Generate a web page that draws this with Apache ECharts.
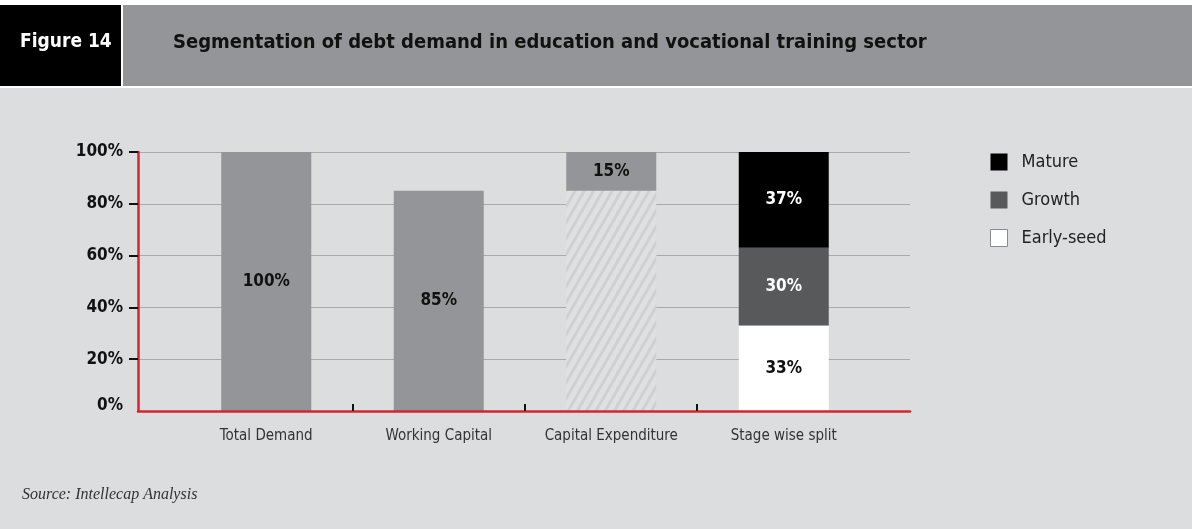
<!DOCTYPE html>
<html>
<head>
<meta charset="utf-8">
<script src="https://cdn.jsdelivr.net/npm/echarts@6/dist/echarts.min.js"></script>
<style>
html,body{margin:0;padding:0;background:#dcdddf;}
#c{width:1192px;height:529px;}
</style>
</head>
<body>
<div id="c"></div>
<script>
const categories = ['Total Demand', 'Working Capital', 'Capital Expenditure', 'Stage wise split'];
const demandValues = [100, 85, '-', '-'];
const capexHatchedValues = ['-', '-', 85, '-'];
const capexValues = ['-', '-', 15, '-'];
const earlySeedValues = ['-', '-', '-', 33];
const growthValues = ['-', '-', '-', 30];
const matureValues = ['-', '-', '-', 37];

const FONT = "'DejaVu Sans Condensed', 'Liberation Sans Narrow', sans-serif";
const RED = '#d8242f';

const chart = echarts.init(document.getElementById('c'), null, {renderer: 'canvas'});

const labelStyle = (color) => ({
  show: true, position: 'inside', formatter: '{c}%',
  fontFamily: FONT, fontWeight: 'bold', fontSize: 17, color: color
});

const baseBar = {
  type: 'bar', stack: 'all', xAxisIndex: 1, yAxisIndex: 1,
  barWidth: 90, z: 2, emphasis: {disabled: true}
};

chart.setOption({
  animation: false,
  backgroundColor: '#dcdddf',
  graphic: [
    {type: 'rect', shape: {x: 0, y: 0, width: 1192, height: 5}, style: {fill: '#ffffff'}, silent: true},
    {type: 'rect', shape: {x: 0, y: 5, width: 121, height: 81}, style: {fill: '#000000'}, silent: true},
    {type: 'rect', shape: {x: 121, y: 5, width: 2, height: 81}, style: {fill: '#ffffff'}, silent: true},
    {type: 'rect', shape: {x: 123, y: 5, width: 1069, height: 81}, style: {fill: '#939598'}, silent: true},
    {type: 'rect', shape: {x: 0, y: 86, width: 1192, height: 2}, style: {fill: '#ffffff'}, silent: true},
    {type: 'text', left: 20, top: 33, silent: true,
      style: {text: 'Figure 14', fill: '#ffffff', font: "bold 19px " + FONT}},
    {type: 'text', left: 173, top: 33, silent: true,
      style: {text: 'Segmentation of debt demand in education and vocational training sector', fill: '#111111', font: "bold 20px " + FONT}},
    {type: 'text', left: 22, top: 487, silent: true,
      style: {text: 'Source: Intellecap Analysis', fill: '#333333', font: "italic 16px 'Liberation Serif', serif"}}
  ],
  legend: {
    orient: 'vertical', left: 985, top: 148,
    itemWidth: 17, itemHeight: 17, itemGap: 20,
    icon: 'rect',
    textStyle: {fontFamily: FONT, fontSize: 18, color: '#222', padding: [0, 0, 0, 9]},
    data: [
      {name: 'Mature'},
      {name: 'Growth'},
      {name: 'Early-seed', itemStyle: {borderColor: '#8a8a8a', borderWidth: 1}}
    ]
  },
  grid: [
    {left: 138, right: 282, top: 152, bottom: 118},
    {left: 180, right: 322, top: 152, bottom: 118},
    {left: 138, right: 282, top: 152, bottom: 169.8},
    {left: 353, right: 495, top: 152, bottom: 118}
  ],
  xAxis: [
    {gridIndex: 0, type: 'category', data: [''],
      axisLine: {show: true, lineStyle: {color: RED, width: 2.5}},
      axisTick: {show: false}, axisLabel: {show: false}, splitLine: {show: false}, z: 5},
    {gridIndex: 1, type: 'category', data: categories,
      axisLine: {show: false}, axisTick: {show: false},
      axisLabel: {interval: 0, fontFamily: FONT, fontSize: 15, color: '#333', margin: 18},
      splitLine: {show: false}},
    {gridIndex: 2, type: 'category', data: [''], show: false},
    {gridIndex: 3, type: 'value', min: 1, max: 3, interval: 1,
      axisLine: {show: false}, axisLabel: {show: false}, splitLine: {show: false},
      axisTick: {show: true, inside: true, length: 7, lineStyle: {color: '#111', width: 2}}, z: 5}
  ],
  yAxis: [
    {gridIndex: 0, type: 'value', min: 0, max: 100, interval: 20,
      axisLine: {show: true, lineStyle: {color: RED, width: 2.5}},
      axisTick: {show: false},
      axisLabel: {
        fontFamily: FONT, fontWeight: 'bold', fontSize: 17, color: '#111', margin: 15,
        formatter: function (v) { return v === 0 ? '{z|0%}' : v + '%'; },
        rich: {z: {fontFamily: FONT, fontWeight: 'bold', fontSize: 17, color: '#111', padding: [0, 0, 10, 0]}}
      },
      splitLine: {show: true, lineStyle: {color: '#a9aaac', width: 1}}, z: 0},
    {gridIndex: 1, type: 'value', min: 0, max: 100, interval: 20, show: false},
    {gridIndex: 2, type: 'value', min: 20, max: 100, interval: 20,
      axisLine: {show: false}, axisLabel: {show: false}, splitLine: {show: false},
      axisTick: {show: true, length: 9, lineStyle: {color: '#111', width: 2}}},
    {gridIndex: 3, type: 'value', min: 0, max: 100, show: false}
  ],
  series: [
    Object.assign({}, baseBar, {name: 'Demand', data: demandValues,
      itemStyle: {color: '#939598'}, label: labelStyle('#111')}),
    Object.assign({}, baseBar, {name: 'Capex base', data: capexHatchedValues,
      itemStyle: {color: '#dfe0e2', decal: {symbol: 'rect', symbolSize: 1, color: '#cfd0d2',
        dashArrayX: [1, 0], dashArrayY: [3, 5], rotation: -Math.PI / 3}},
      label: {show: false}}),
    Object.assign({}, baseBar, {name: 'Capex', data: capexValues,
      itemStyle: {color: '#939598'}, label: labelStyle('#111')}),
    Object.assign({}, baseBar, {name: 'Early-seed', data: earlySeedValues,
      itemStyle: {color: '#ffffff'}, label: labelStyle('#111')}),
    Object.assign({}, baseBar, {name: 'Growth', data: growthValues,
      itemStyle: {color: '#58595b'}, label: labelStyle('#ffffff')}),
    Object.assign({}, baseBar, {name: 'Mature', data: matureValues,
      itemStyle: {color: '#000000'}, label: labelStyle('#ffffff')})
  ]
});
</script>
</body>
</html>
